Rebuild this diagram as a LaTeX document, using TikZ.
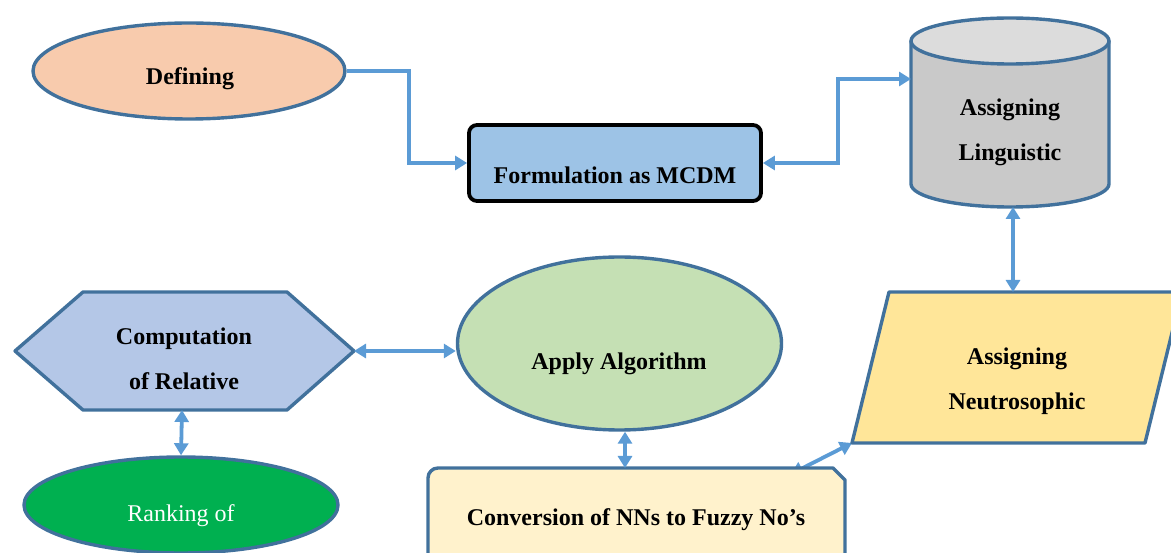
\documentclass[tikz,border=0pt]{standalone}
\usepackage{fontspec}
\setmainfont{Liberation Serif}
\usetikzlibrary{shapes.geometric,arrows.meta,calc}
\definecolor{bordc}{HTML}{41719C}
\definecolor{arrc}{HTML}{5B9BD5}
\definecolor{peach}{HTML}{F8CBAD}
\definecolor{formc}{HTML}{9DC3E6}
\definecolor{cylbody}{HTML}{C9C9C9}
\definecolor{cyltop}{HTML}{DCDCDC}
\definecolor{parac}{HTML}{FFE699}
\definecolor{applyc}{HTML}{C5E0B4}
\definecolor{hexc}{HTML}{B4C7E7}
\definecolor{rankc}{HTML}{00B050}
\definecolor{convc}{HTML}{FFF2CC}
\tikzset{
  shapeline/.style={draw=bordc, line width=3.4pt, line join=round},
  ell/.style={ellipse, shapeline, inner sep=0pt},
  lbl/.style={font=\fontsize{24}{45}\selectfont\bfseries, align=center, inner sep=0pt},
  conn/.style={draw=arrc, line width=3.8pt},
  bi/.style={conn, {Triangle[length=12pt,width=14pt]}-{Triangle[length=12pt,width=14pt]}},
  uni/.style={conn, -{Triangle[length=12pt,width=14pt]}},
}
\begin{document}
\begin{tikzpicture}[x=1pt,y=-1pt]
\useasboundingbox (0,0) rectangle (1171,553);
% coordinates
\coordinate (convT) at (625,468);
\coordinate (convA) at (791,474);
\coordinate (paraBL) at (852,443);
\coordinate (paraT) at (1013,292);
\coordinate (cylL) at (911,79);
\coordinate (cylB) at (1013,207);
\coordinate (hexR) at (354,351);
\coordinate (hexB) at (182,410);
\coordinate (bendA) at (409,0);
\coordinate (bendB) at (838,0);
% connector partly hidden under the conversion box
\draw[bi] (convA) -- (paraBL);
% shapes
\node[ell, fill=peach, minimum width=312pt, minimum height=96pt] (def) at (189,71) {};
\node[lbl] (deft) at (190,79) {Defining};
\node[draw=black, line width=3.8pt, rounded corners=8pt, fill=formc, minimum width=292pt, minimum height=76pt] (form) at (615,163) {};
\node[lbl] (formt) at (615,175) {Formulation as MCDM};
% cylinder
\filldraw[shapeline, fill=cylbody] (911,41) -- (911,184) arc[start angle=180, end angle=360, x radius=99pt, y radius=23pt] -- (1109,41) -- cycle;
\filldraw[shapeline, fill=cyltop] (1010,41) ellipse[x radius=99pt, y radius=23pt];
\node[lbl] (cylt) at (1010,132) {Assigning\\Linguistic};
% parallelogram
\filldraw[shapeline, fill=parac] (889,292) -- (1182,292) -- (1145,443) -- (852,443) -- cycle;
\node[lbl] (parat) at (1017,381) {Assigning\\Neutrosophic};
% apply algorithm
\node[ell, fill=applyc, minimum width=324pt, minimum height=173pt] (app) at (619.5,343.5) {};
\node[lbl] (appt) at (619,364) {Apply Algorithm};
% hexagon
\filldraw[shapeline, fill=hexc] (15,351) -- (83,292) -- (287,292) -- (354,351) -- (287,410) -- (83,410) -- cycle;
\node[lbl] (hext) at (184,359) {Computation\\of Relative};
% ranking
\node[ell, fill=rankc, minimum width=314pt, minimum height=96pt] (rank) at (181,505) {};
\node[lbl, font=\fontsize{24}{45}\selectfont, text=white] (rankt) at (181,516) {Ranking of};
% conversion box
\filldraw[shapeline, fill=convc] (428,575) -- (428,478) arc[start angle=180, end angle=90, radius=10pt] -- (833,468) -- (845,480) -- (845,575) -- cycle;
\node[lbl] (convt) at (636,520) {Conversion of NNs to Fuzzy No’s};
% connectors
\draw[uni] (def.east) -| (bendA |- form.west) -- (form.west);
\draw[bi] (form.east) -| (bendB |- cylL) -- (cylL);
\draw[bi] (cylB) -- (paraT);
\draw[bi] (hexR) -- (hexR -| app.west);
\draw[bi] (hexB) -- (rank.north);
\draw[bi] (convT |- app.south) -- (convT);
\end{tikzpicture}
\end{document}
